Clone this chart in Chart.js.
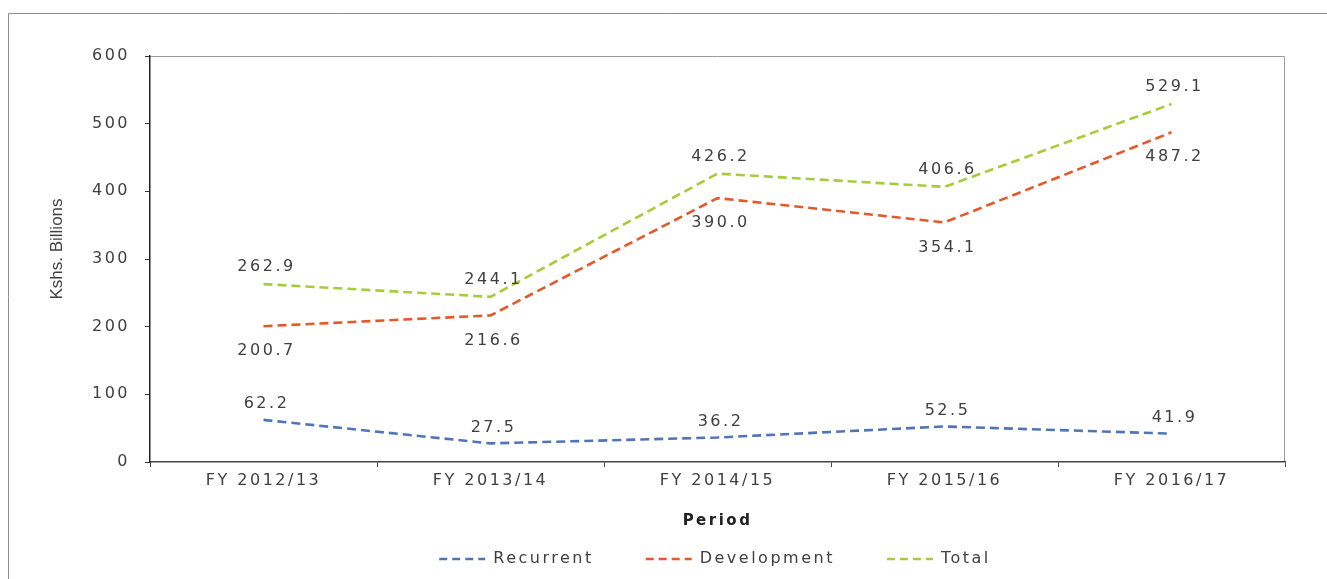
<!DOCTYPE html>
<html><head><meta charset="utf-8">
<script src="https://cdn.jsdelivr.net/npm/chart.js@4.4.1/dist/chart.umd.min.js"></script>
<style>html,body{margin:0;padding:0;background:#fff;}canvas{display:block;}</style>
</head><body>
<canvas id="c" width="1327" height="579"></canvas>
<script>
const categories = ['FY 2012/13', 'FY 2013/14', 'FY 2014/15', 'FY 2015/16', 'FY 2016/17'];
const recurrent = [62.2, 27.5, 36.2, 52.5, 41.9];
const development = [200.7, 216.6, 390.0, 354.1, 487.2];
const total = [262.9, 244.1, 426.2, 406.6, 529.1];
const yTicks = [0, 100, 200, 300, 400, 500, 600];
const seriesNames = ['Recurrent', 'Development', 'Total'];
const yTitle = 'Kshs. Billions';
const xTitle = 'Period';

const TEXT = '#404040';
const SPACING = '2.5px';
const FONT = 'DejaVu Sans';
const DASH = [9, 5];

const spacingPlugin = {
  id: 'spacing',
  beforeUpdate(c) { c.ctx.letterSpacing = SPACING; },
  beforeLayout(c) { c.ctx.letterSpacing = SPACING; },
  afterLayout(c) { if (c.legend) { c.legend.left = 145; } },
  beforeDraw(c) {
    const ctx = c.ctx;
    ctx.letterSpacing = SPACING;
    const a = c.chartArea;
    ctx.save();
    ctx.strokeStyle = '#8c8c8c';
    ctx.lineWidth = 1;
    ctx.beginPath();
    ctx.moveTo(8.5, 579); ctx.lineTo(8.5, 13.5); ctx.lineTo(1327, 13.5);
    ctx.stroke();
    ctx.strokeStyle = '#9a9a9a';
    ctx.beginPath();
    ctx.moveTo(a.left, a.top + 0.5); ctx.lineTo(a.right - 0.5, a.top + 0.5); ctx.lineTo(a.right - 0.5, a.bottom);
    ctx.stroke();
    ctx.restore();
  },
  afterDraw(c) {
    const ctx = c.ctx;
    const a = c.chartArea;
    ctx.save();
    ctx.letterSpacing = '0px';
    ctx.font = '17px "Liberation Sans Narrow", "Liberation Sans", sans-serif';
    ctx.fillStyle = TEXT;
    ctx.translate(57, (a.top + a.bottom) / 2 - 10);
    ctx.rotate(-Math.PI / 2);
    ctx.textAlign = 'center';
    ctx.textBaseline = 'middle';
    ctx.fillText(yTitle, 0, 0);
    ctx.restore();
  }
};

const labelOffsets = [-16, 25, -17];
const dataLabels = {
  id: 'dataLabels',
  afterDatasetsDraw(c) {
    const ctx = c.ctx;
    ctx.save();
    ctx.font = '16px "' + FONT + '"';
    ctx.fillStyle = TEXT;
    ctx.textAlign = 'center';
    ctx.textBaseline = 'middle';
    c.data.datasets.forEach((ds, i) => {
      const meta = c.getDatasetMeta(i);
      meta.data.forEach((pt, j) => {
        ctx.fillText(ds.data[j].toFixed(1), pt.x + 3, pt.y + labelOffsets[i]);
      });
    });
    ctx.restore();
  }
};

const mk = (label, data, color) => ({
  label, data,
  borderColor: color, backgroundColor: color,
  borderWidth: 2.6, borderDash: DASH,
  segment: { borderDash: () => DASH },
  pointRadius: 0, pointHoverRadius: 0, tension: 0, fill: false
});

new Chart(document.getElementById('c'), {
  type: 'line',
  data: {
    labels: categories,
    datasets: [
      mk(seriesNames[0], recurrent, '#4f75b8'),
      mk(seriesNames[1], development, '#e4582a'),
      mk(seriesNames[2], total, '#a8cb3a')
    ]
  },
  options: {
    responsive: false,
    animation: false,
    layout: { padding: { top: 56, right: 42, left: 72, bottom: 2 } },
    plugins: {
      tooltip: { enabled: false },
      legend: {
        position: 'bottom',
        labels: {
          usePointStyle: true, pointStyle: 'line', pointStyleWidth: 46,
          padding: 52, color: TEXT,
          font: { family: FONT, size: 16 },
          generateLabels(chart) {
            return chart.data.datasets.map((ds, i) => ({
              text: ds.label,
              fillStyle: ds.borderColor,
              strokeStyle: ds.borderColor,
              lineWidth: 2.5,
              lineDash: [8, 5],
              pointStyle: 'line',
              fontColor: TEXT,
              hidden: false,
              datasetIndex: i
            }));
          }
        }
      }
    },
    scales: {
      x: {
        offset: true,
        grid: { display: true, drawOnChartArea: false, drawTicks: true, tickLength: 5, tickColor: '#444', offset: true },
        border: { display: true, color: '#444', width: 1.5 },
        ticks: { color: TEXT, padding: 4, font: { family: FONT, size: 16 }, maxRotation: 0 },
        title: { display: true, text: xTitle, color: '#222', font: { family: FONT, size: 15, weight: 'bold' }, padding: { top: 0, bottom: -31 } },
        afterFit(s) { s.height = 37; }
      },
      y: {
        min: yTicks[0], max: yTicks[yTicks.length - 1],
        grid: { display: true, drawOnChartArea: false, drawTicks: true, tickLength: 5, tickColor: '#333' },
        border: { display: true, color: '#222', width: 1.5 },
        ticks: { stepSize: yTicks[1] - yTicks[0], color: TEXT, padding: 15, font: { family: FONT, size: 16 } },
        afterFit(s) { s.width = 78; }
      }
    }
  },
  plugins: [spacingPlugin, dataLabels]
});
</script>
</body></html>
